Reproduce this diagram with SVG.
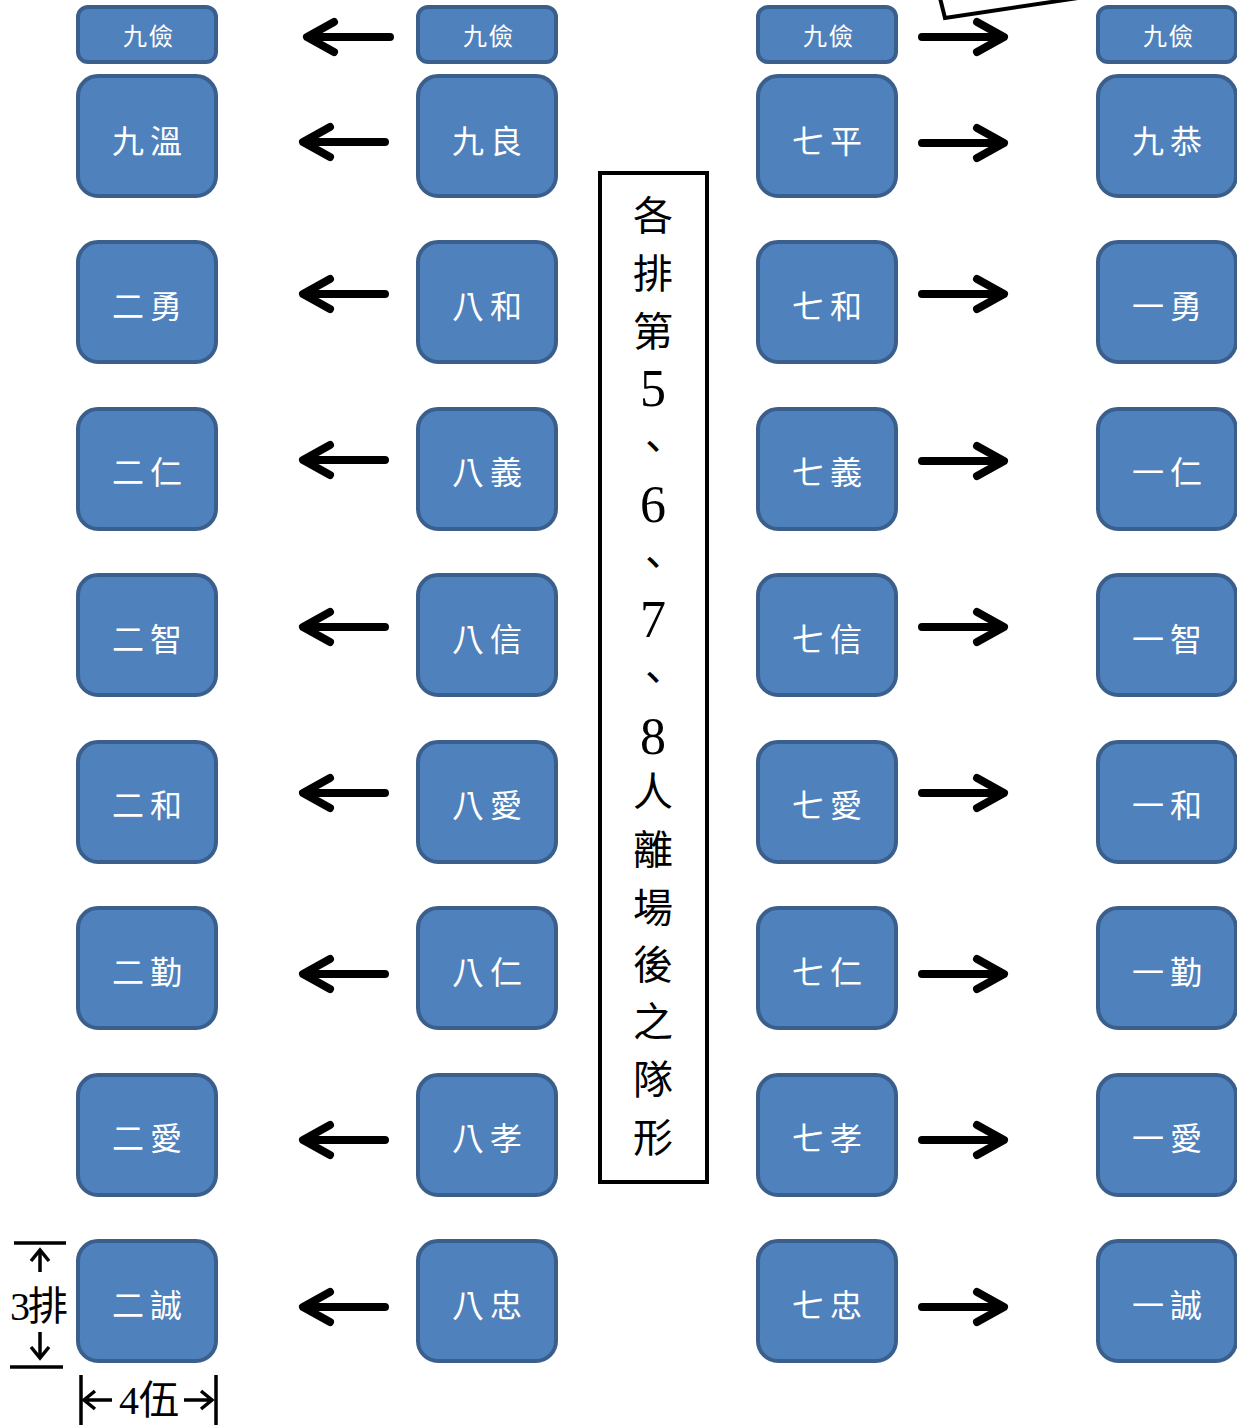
<svg xmlns="http://www.w3.org/2000/svg" width="1237" height="1426" viewBox="0 0 1237 1426">
<defs>
<style>
.n{fill:#4F81BD;stroke:#3A5F8C;stroke-width:4}
.t{font-family:"Noto Sans CJK TC","Liberation Serif",serif;fill:#fff;text-anchor:middle;font-size:32px;letter-spacing:6px}
.ts{font-size:24px;letter-spacing:2px}
.a{fill:none;stroke:#000;stroke-width:8;stroke-linecap:round;stroke-linejoin:round}
.d{fill:none;stroke:#000;stroke-width:3.5}
.c{font-family:"Noto Sans CJK TC","Liberation Serif",serif;fill:#000;text-anchor:middle;font-size:40px}
.dg{font-family:"Liberation Serif",serif;font-size:52px}
.dm{font-family:"Liberation Serif","Noto Sans CJK TC",serif;font-size:40px;fill:#000;text-anchor:middle}
</style>
</defs>
<g id="nodes">
<g id="n-top1"><rect class="n" x="78" y="7" width="138" height="55" rx="10"/><text class="t ts" x="149" y="45">九儉</text></g>
<g id="n-top2"><rect class="n" x="418" y="7" width="138" height="55" rx="10"/><text class="t ts" x="489" y="45">九儉</text></g>
<g id="n-top3"><rect class="n" x="758" y="7" width="138" height="55" rx="10"/><text class="t ts" x="829" y="45">九儉</text></g>
<g id="n-top4"><rect class="n" x="1098" y="7" width="138" height="55" rx="10"/><text class="t ts" x="1169" y="45">九儉</text></g>

<g id="n-r1c1"><rect class="n" x="78" y="76" width="138" height="120" rx="20"/><text class="t" x="150" y="153">九溫</text></g>
<g id="n-r1c2"><rect class="n" x="418" y="76" width="138" height="120" rx="20"/><text class="t" x="490" y="153">九良</text></g>
<g id="n-r1c3"><rect class="n" x="758" y="76" width="138" height="120" rx="20"/><text class="t" x="830" y="153">七平</text></g>
<g id="n-r1c4"><rect class="n" x="1098" y="76" width="138" height="120" rx="20"/><text class="t" x="1170" y="153">九恭</text></g>

<g id="n-r2c1"><rect class="n" x="78" y="242" width="138" height="120" rx="20"/><text class="t" x="150" y="318">二勇</text></g>
<g id="n-r2c2"><rect class="n" x="418" y="242" width="138" height="120" rx="20"/><text class="t" x="490" y="318">八和</text></g>
<g id="n-r2c3"><rect class="n" x="758" y="242" width="138" height="120" rx="20"/><text class="t" x="830" y="318">七和</text></g>
<g id="n-r2c4"><rect class="n" x="1098" y="242" width="138" height="120" rx="20"/><text class="t" x="1170" y="318">一勇</text></g>

<g id="n-r3c1"><rect class="n" x="78" y="409" width="138" height="120" rx="20"/><text class="t" x="150" y="484">二仁</text></g>
<g id="n-r3c2"><rect class="n" x="418" y="409" width="138" height="120" rx="20"/><text class="t" x="490" y="484">八義</text></g>
<g id="n-r3c3"><rect class="n" x="758" y="409" width="138" height="120" rx="20"/><text class="t" x="830" y="484">七義</text></g>
<g id="n-r3c4"><rect class="n" x="1098" y="409" width="138" height="120" rx="20"/><text class="t" x="1170" y="484">一仁</text></g>

<g id="n-r4c1"><rect class="n" x="78" y="575" width="138" height="120" rx="20"/><text class="t" x="150" y="651">二智</text></g>
<g id="n-r4c2"><rect class="n" x="418" y="575" width="138" height="120" rx="20"/><text class="t" x="490" y="651">八信</text></g>
<g id="n-r4c3"><rect class="n" x="758" y="575" width="138" height="120" rx="20"/><text class="t" x="830" y="651">七信</text></g>
<g id="n-r4c4"><rect class="n" x="1098" y="575" width="138" height="120" rx="20"/><text class="t" x="1170" y="651">一智</text></g>

<g id="n-r5c1"><rect class="n" x="78" y="742" width="138" height="120" rx="20"/><text class="t" x="150" y="817">二和</text></g>
<g id="n-r5c2"><rect class="n" x="418" y="742" width="138" height="120" rx="20"/><text class="t" x="490" y="817">八愛</text></g>
<g id="n-r5c3"><rect class="n" x="758" y="742" width="138" height="120" rx="20"/><text class="t" x="830" y="817">七愛</text></g>
<g id="n-r5c4"><rect class="n" x="1098" y="742" width="138" height="120" rx="20"/><text class="t" x="1170" y="817">一和</text></g>

<g id="n-r6c1"><rect class="n" x="78" y="908" width="138" height="120" rx="20"/><text class="t" x="150" y="984">二勤</text></g>
<g id="n-r6c2"><rect class="n" x="418" y="908" width="138" height="120" rx="20"/><text class="t" x="490" y="984">八仁</text></g>
<g id="n-r6c3"><rect class="n" x="758" y="908" width="138" height="120" rx="20"/><text class="t" x="830" y="984">七仁</text></g>
<g id="n-r6c4"><rect class="n" x="1098" y="908" width="138" height="120" rx="20"/><text class="t" x="1170" y="984">一勤</text></g>

<g id="n-r7c1"><rect class="n" x="78" y="1075" width="138" height="120" rx="20"/><text class="t" x="150" y="1150">二愛</text></g>
<g id="n-r7c2"><rect class="n" x="418" y="1075" width="138" height="120" rx="20"/><text class="t" x="490" y="1150">八孝</text></g>
<g id="n-r7c3"><rect class="n" x="758" y="1075" width="138" height="120" rx="20"/><text class="t" x="830" y="1150">七孝</text></g>
<g id="n-r7c4"><rect class="n" x="1098" y="1075" width="138" height="120" rx="20"/><text class="t" x="1170" y="1150">一愛</text></g>

<g id="n-r8c1"><rect class="n" x="78" y="1241" width="138" height="120" rx="20"/><text class="t" x="150" y="1317">二誠</text></g>
<g id="n-r8c2"><rect class="n" x="418" y="1241" width="138" height="120" rx="20"/><text class="t" x="490" y="1317">八忠</text></g>
<g id="n-r8c3"><rect class="n" x="758" y="1241" width="138" height="120" rx="20"/><text class="t" x="830" y="1317">七忠</text></g>
<g id="n-r8c4"><rect class="n" x="1098" y="1241" width="138" height="120" rx="20"/><text class="t" x="1170" y="1317">一誠</text></g>

<g id="title"><rect x="600" y="173" width="107" height="1009" fill="#fff" stroke="#000" stroke-width="4"/>
<text class="c" x="653" y="230">各</text>
<text class="c" x="653" y="288">排</text>
<text class="c" x="653" y="346">第</text>
<text class="c dg" x="653" y="406">5</text>
<text class="c" x="653" y="461">、</text>
<text class="c dg" x="653" y="522">6</text>
<text class="c" x="653" y="577">、</text>
<text class="c dg" x="653" y="637">7</text>
<text class="c" x="653" y="692">、</text>
<text class="c dg" x="653" y="754">8</text>
<text class="c" x="653" y="806">人</text>
<text class="c" x="653" y="864">離</text>
<text class="c" x="653" y="922">場</text>
<text class="c" x="653" y="979">後</text>
<text class="c" x="653" y="1036">之</text>
<text class="c" x="653" y="1094">隊</text>
<text class="c" x="653" y="1152">形</text>
</g>
<g id="callout"><polyline points="940,-2 945,18 1078,-2" fill="none" stroke="#000" stroke-width="4"/></g>
</g>
<g id="connectors">
<path class="a" d="M390,37 H310 M334,22 L307,37 L334,52"/>
<path class="a" d="M385,142 H306 M330,127 L303,142 L330,157"/>
<path class="a" d="M385,294 H306 M330,279 L303,294 L330,309"/>
<path class="a" d="M385,460 H306 M330,445 L303,460 L330,475"/>
<path class="a" d="M385,627 H306 M330,612 L303,627 L330,642"/>
<path class="a" d="M385,793 H306 M330,778 L303,793 L330,808"/>
<path class="a" d="M385,974 H306 M330,959 L303,974 L330,989"/>
<path class="a" d="M385,1140 H306 M330,1125 L303,1140 L330,1155"/>
<path class="a" d="M385,1307 H306 M330,1292 L303,1307 L330,1322"/>

<path class="a" d="M922,37 H1000 M977,22 L1004,37 L977,52"/>
<path class="a" d="M922,143 H1000 M977,128 L1004,143 L977,158"/>
<path class="a" d="M922,294 H1000 M977,279 L1004,294 L977,309"/>
<path class="a" d="M922,461 H1000 M977,446 L1004,461 L977,476"/>
<path class="a" d="M922,627 H1000 M977,612 L1004,627 L977,642"/>
<path class="a" d="M922,793 H1000 M977,778 L1004,793 L977,808"/>
<path class="a" d="M922,974 H1000 M977,959 L1004,974 L977,989"/>
<path class="a" d="M922,1140 H1000 M977,1125 L1004,1140 L977,1155"/>
<path class="a" d="M922,1307 H1000 M977,1292 L1004,1307 L977,1322"/>
</g>
<g id="dimensions">
<line class="d" x1="14" y1="1243" x2="66" y2="1243"/>
<line class="d" x1="10" y1="1367" x2="63" y2="1367"/>
<path class="d" d="M40,1272 V1250 M31,1261 L40,1250 L49,1261"/>
<path class="d" d="M40,1332 V1358 M31,1347 L40,1358 L49,1347"/>
<text class="dm" x="38" y="1320" letter-spacing="-2">3排</text>
<line class="d" x1="81" y1="1375" x2="81" y2="1425"/>
<line class="d" x1="216" y1="1375" x2="216" y2="1425"/>
<path class="d" d="M112,1400 H84 M95,1391 L84,1400 L95,1409"/>
<path class="d" d="M184,1400 H212 M201,1391 L212,1400 L201,1409"/>
<text class="dm" x="149" y="1414">4伍</text>
</g>
</svg>
